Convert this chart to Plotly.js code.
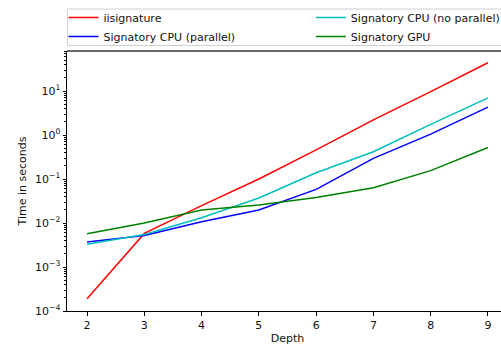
<!DOCTYPE html>
<html>
<head>
<meta charset="utf-8">
<script src="https://cdn.plot.ly/plotly-3.0.1.min.js"></script>
<style>html,body{margin:0;padding:0;overflow:hidden;background:#fff;}#chart{width:520px;height:345px;}</style>
</head>
<body>
<div id="chart"></div>
<script>
const depths = [2, 3, 4, 5, 6, 7, 8, 9];
const iisignature = [0.00019, 0.0058, 0.0248, 0.1, 0.46, 2.2, 9.7, 44];
const cpuParallel = [0.0037, 0.0052, 0.0107, 0.0197, 0.058, 0.295, 1.05, 4.3];
const cpuNoParallel = [0.0033, 0.0055, 0.0132, 0.037, 0.139, 0.417, 1.74, 7.0];
const gpu = [0.0057, 0.010, 0.0197, 0.0256, 0.038, 0.0636, 0.155, 0.52];
const yTickExp = [-4, -3, -2, -1, 0, 1];
const yTickVals = yTickExp.map(e => Math.pow(10, e));
const yTickText = yTickExp.map(e => '10<sup>' + (e < 0 ? '\u2212' + (-e) : e) + '</sup>');

const mk = (name, y, color, lg) => ({
  x: depths, y: y, name: name, type: 'scatter', mode: 'lines',
  line: {color: color, width: 1.5}, legend: lg
});
const data = [
  {x: depths, y: gpu, yaxis: 'y2', type: 'scatter', mode: 'lines',
   line: {width: 0, color: 'rgba(0,0,0,0)'}, opacity: 0, showlegend: false, hoverinfo: 'skip'},
  mk('iisignature', iisignature, '#ff0000', 'legend'),
  mk('Signatory CPU (parallel)', cpuParallel, '#0000ff', 'legend'),
  mk('Signatory CPU (no parallel)', cpuNoParallel, '#00bfbf', 'legend2'),
  mk('Signatory GPU', gpu, '#008000', 'legend2')
];
const font = {family: 'DejaVu Sans', size: 11, color: '#111'};
const legBase = {
  orientation: 'v', xanchor: 'left', y: 1.185, yanchor: 'top',
  borderwidth: 0, bgcolor: 'rgba(0,0,0,0)', font: font, traceorder: 'normal',
  itemwidth: 30
};
const layout = {
  width: 520, height: 345,
  margin: {l: 67, r: 12, t: 51, b: 34, autoexpand: false},
  paper_bgcolor: '#fff', plot_bgcolor: '#fff',
  font: font,
  showlegend: true,
  legend: Object.assign({x: -0.008}, legBase),
  legend2: Object.assign({x: 0.553}, legBase),
  xaxis: {
    range: [1.65, 9.35], tickvals: depths, ticks: 'outside', ticklen: 3.5,
    tickcolor: '#000', showline: true, linecolor: '#000', linewidth: 1,
    showgrid: false, zeroline: false,
    title: {text: 'Depth', font: font, standoff: 4}
  },
  yaxis: {
    type: 'log', range: [-4, 1.91], tickvals: yTickVals, ticktext: yTickText,
    ticks: 'outside', ticklen: 3.5, tickcolor: '#000', showline: true,
    linecolor: '#000', linewidth: 1, showgrid: false, zeroline: false,
    title: {text: 'Time in seconds', font: font, standoff: 6}
  },
  yaxis2: {
    type: 'log', range: [-4, 1.91], overlaying: 'y', side: 'left',
    dtick: 'D1', ticks: 'outside', ticklen: 2, tickcolor: '#000',
    showticklabels: false, showgrid: false, zeroline: false, showline: false
  },
  shapes: [
    {type: 'line', xref: 'paper', yref: 'paper', x0: 0, x1: 1, y0: 1, y1: 1,
     line: {color: '#666', width: 2}},
    {type: 'rect', xref: 'paper', yref: 'paper', x0: 0.001, x1: 1.1,
     y0: (311 - 45.5) / 260, y1: (311 - 9) / 260,
     line: {color: '#d0d0d0', width: 1}, fillcolor: 'rgba(255,255,255,0)'}
  ]
};
Plotly.newPlot('chart', data, layout, {displayModeBar: false, staticPlot: true});
</script>
</body>
</html>
